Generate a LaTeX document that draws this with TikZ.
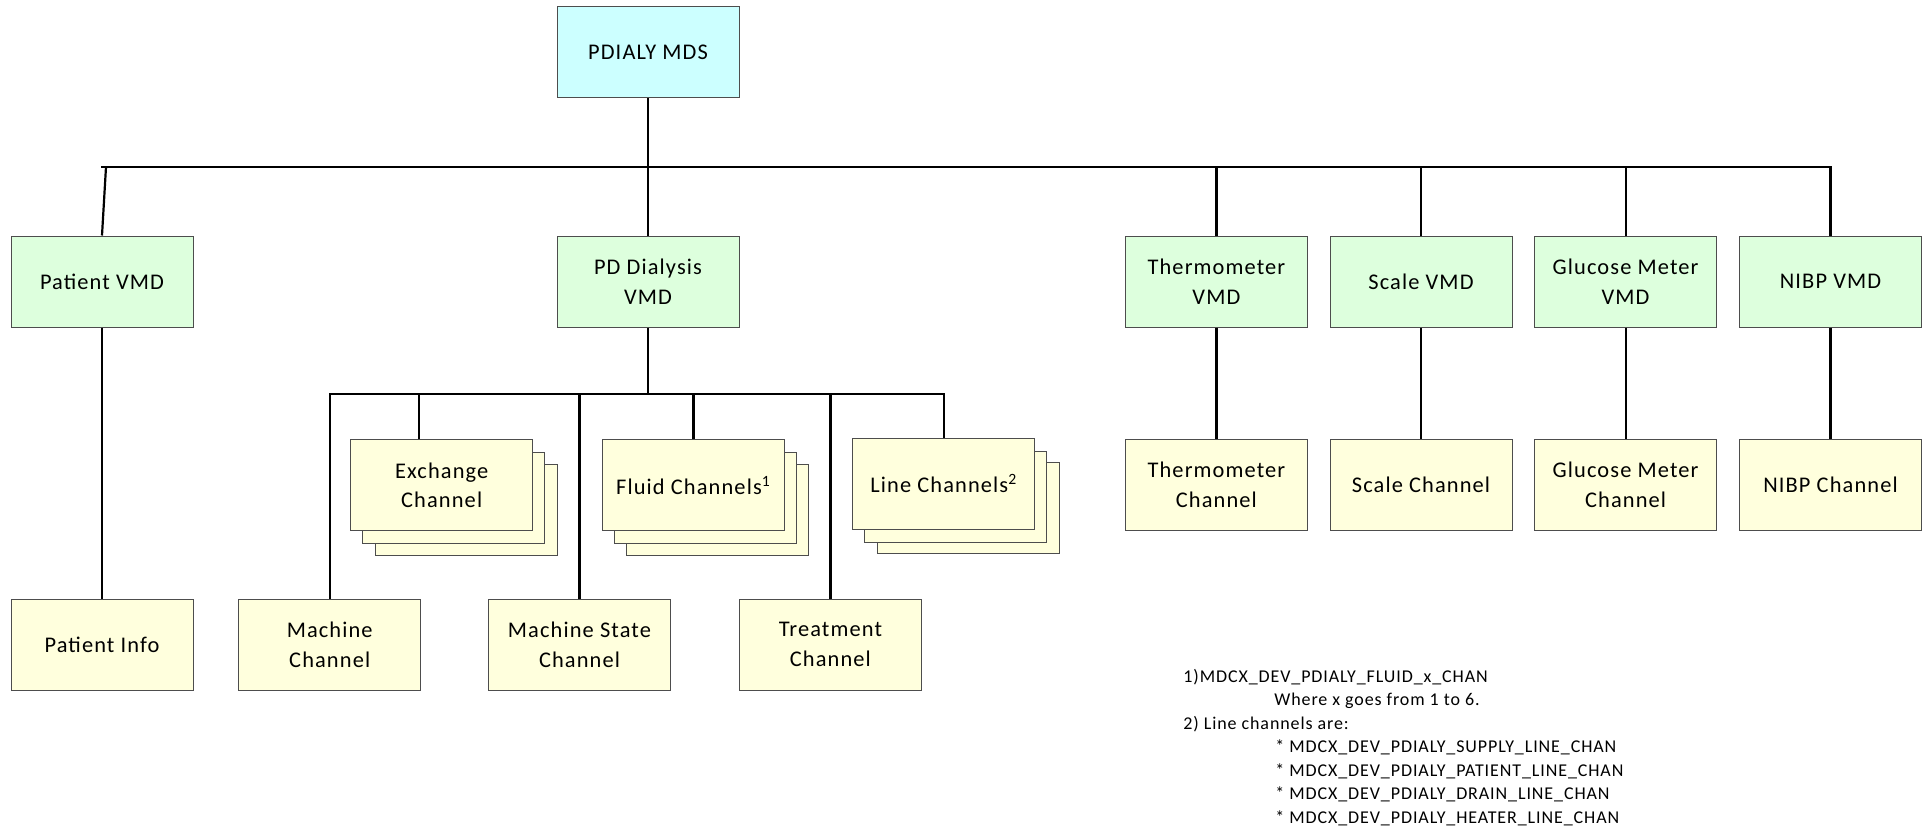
\documentclass[tikz,border=0pt]{standalone}
\usepackage{fontspec}
\setmainfont{Carlito}[LetterSpace=5]
\definecolor{mdsfill}{HTML}{CCFFFF}
\definecolor{vmdfill}{HTML}{DDFFDD}
\definecolor{chanfill}{HTML}{FFFFDD}
\definecolor{boxline}{HTML}{4D4D4D}
\begin{document}
\begin{tikzpicture}[x=0.5pt,y=-0.5pt,
  box/.style={draw=boxline, line width=0.5pt, minimum width=91pt, minimum height=45.5pt,
              align=center, inner sep=0pt, font=\fontsize{11.2}{14.8}\selectfont},
  mdsbox/.style={box, fill=mdsfill},
  vmdbox/.style={box, fill=vmdfill},
  chanbox/.style={box, fill=chanfill},
  link/.style={line width=1.1pt, black},
  note/.style={anchor=base west, inner sep=0pt, font=\fontsize{9}{11}\selectfont}]
\useasboundingbox (0,0) rectangle (1929,832);

% root
\node[mdsbox] (mds) at (648,52) {PDIALY MDS};

% virtual medical devices
\node[vmdbox] (patvmd) at (102,281.5)    {Patient VMD};
\node[vmdbox] (pdvmd)  at (648,281.5)    {PD Dialysis\\VMD};
\node[vmdbox] (thvmd)  at (1216.4,281.5) {Thermometer\\VMD};
\node[vmdbox] (scvmd)  at (1421,281.5)   {Scale VMD};
\node[vmdbox] (glvmd)  at (1625.6,281.5) {Glucose Meter\\VMD};
\node[vmdbox] (nivmd)  at (1830.5,281.5) {NIBP VMD};

% single channels of the device VMDs
\node[chanbox] (thch) at (1216.4,485) {Thermometer\\Channel};
\node[chanbox] (scch) at (1421,485)   {Scale Channel};
\node[chanbox] (glch) at (1625.6,485) {Glucose Meter\\Channel};
\node[chanbox] (nich) at (1830.5,485) {NIBP Channel};

% bottom row
\node[chanbox] (patinfo) at (102,644.5)   {Patient Info};
\node[chanbox] (mach)    at (329.7,644.5) {Machine\\Channel};
\node[chanbox] (mstate)  at (579.5,644.5) {Machine State\\Channel};
\node[chanbox] (treat)   at (830.4,644.5) {Treatment\\Channel};

% stacked (multiple) channels
\node[chanbox] (exch3) at (466,509.8) {};
\node[chanbox] (exch2) at (453.7,497.5) {};
\node[chanbox] (exch)  at (441.7,485.3) {Exchange\\Channel};
\node[chanbox] (fluid3) at (717.8,509.8) {};
\node[chanbox] (fluid2) at (705.5,497.5) {};
\node[chanbox] (fluid)  at (693.5,485.3) {Fluid Channels\textsuperscript{1}};
\node[chanbox] (line3) at (968,508) {};
\node[chanbox] (line2) at (955.5,496.5) {};
\node[chanbox] (line)  at (943.8,483.7) {Line Channels\textsuperscript{2}};

% main bus
\coordinate (busL) at (101,167);
\coordinate (patjoin) at (106,167);
\draw[link] (busL) -| (nivmd.north);
\draw[link] (mds.south) -- (pdvmd.north);
\draw[link] (patjoin) -- (patvmd.north);
\foreach \v in {thvmd,scvmd,glvmd}
  \draw[link] (\v.north) -- (\v.north |- busL);

% VMD to channel links
\draw[link] (patvmd) -- (patinfo);
\draw[link] (thvmd) -- (thch);
\draw[link] (scvmd) -- (scch);
\draw[link] (glvmd) -- (glch);
\draw[link] (nivmd) -- (nich);

% dialysis sub-bus
\coordinate (sub) at (648,394);
\draw[link] (pdvmd.south) -- (sub);
\draw[link] (mach.north) |- (sub) -| (line.north);
\draw[link] ([xshift=-11.35pt]exch.north) -- ([xshift=-11.35pt]exch.north |- sub);
\foreach \c in {fluid,mstate,treat}
  \draw[link] (\c.north) -- (\c.north |- sub);

% footnotes
\node[note] (fn1) at (1183,682)   {1)MDCX\_DEV\_PDIALY\_FLUID\_x\_CHAN};
\node[note] (fn2) at (1274,705.5) {Where x goes from 1 to 6.};
\node[note] (fn3) at (1183,729)   {2) Line channels are:};
\node[note] (fn4) at (1275,752.6) {* MDCX\_DEV\_PDIALY\_SUPPLY\_LINE\_CHAN};
\node[note] (fn5) at (1275,776)   {* MDCX\_DEV\_PDIALY\_PATIENT\_LINE\_CHAN};
\node[note] (fn6) at (1275,799.7) {* MDCX\_DEV\_PDIALY\_DRAIN\_LINE\_CHAN};
\node[note] (fn7) at (1275,823.3) {* MDCX\_DEV\_PDIALY\_HEATER\_LINE\_CHAN};
\end{tikzpicture}
\end{document}
